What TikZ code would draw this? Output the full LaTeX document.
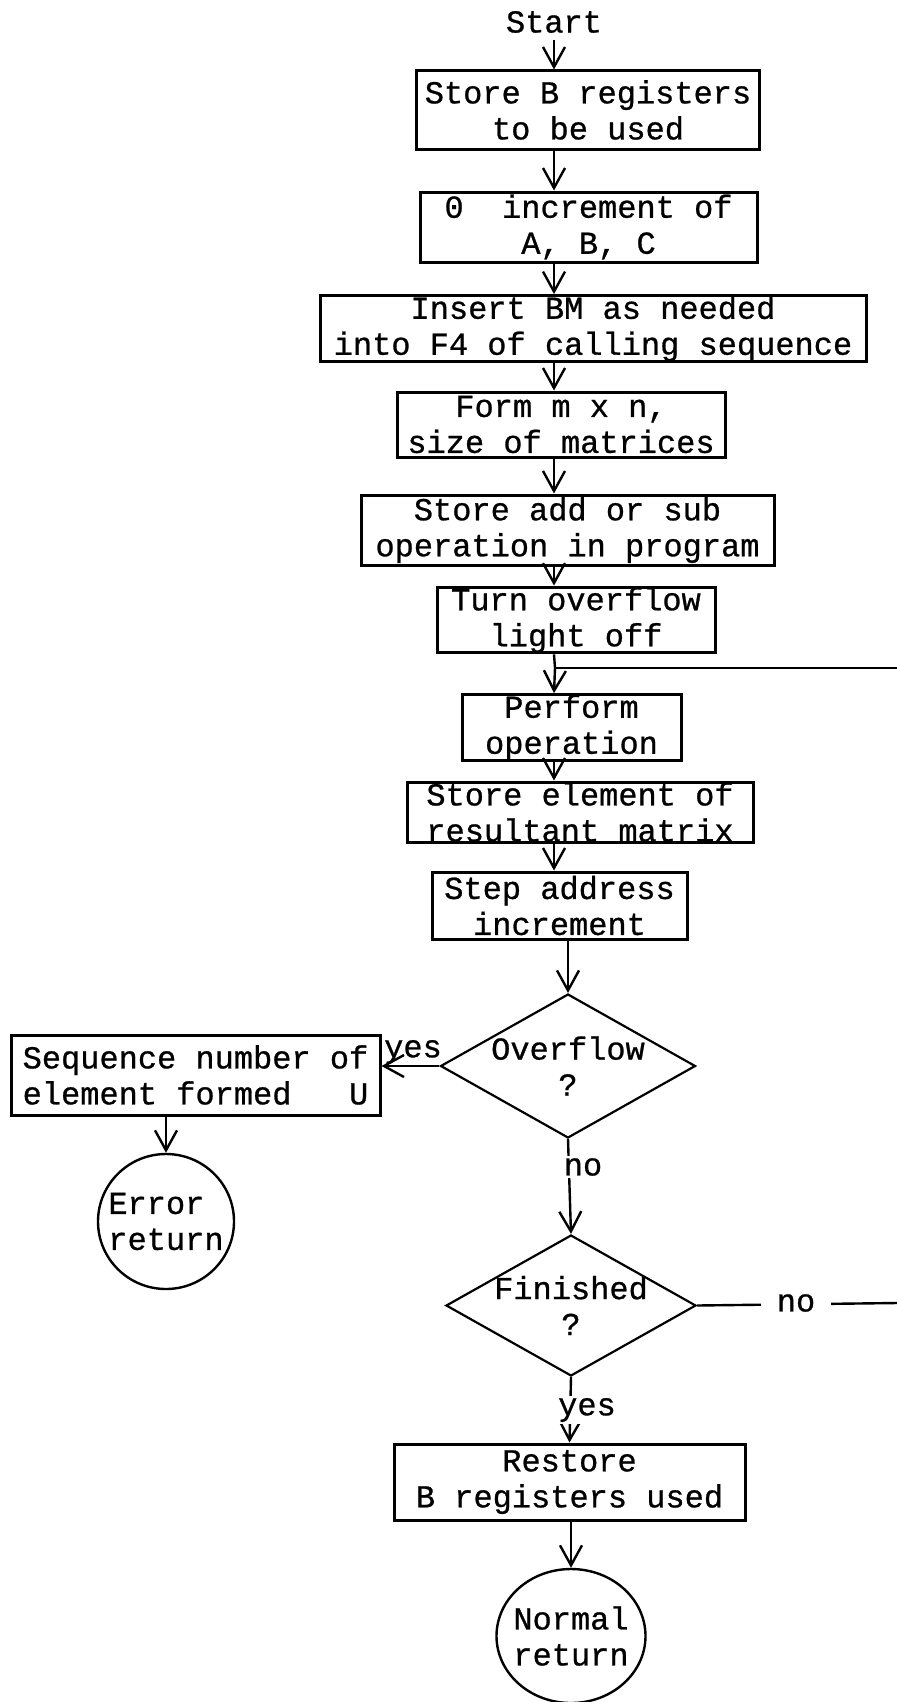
\documentclass[tikz,border=0pt]{standalone}
\usepackage{fontspec}
\setmainfont{Liberation Mono}[FakeBold=0.8]
\usetikzlibrary{arrows.meta,shapes.geometric}

\begin{document}
\begin{tikzpicture}[x=0.5pt, y=-0.5pt, >={Straight Barb[length=10pt,width=11pt]},
    font=\fontsize{16}{18}\selectfont,
    blok/.style={draw, line width=1.5pt, inner xsep=4pt, inner ysep=0pt, align=center},
    rozhod/.style={draw, diamond, line width=1.1pt, inner sep=-12pt, align=center},
    konec/.style={draw, ellipse, line width=1.2pt, inner sep=-8pt, align=left},
    spoj/.style={->, line width=1.2pt},
    popis/.style={fill=white, inner sep=1pt}]

    \useasboundingbox (0,0) rectangle (897,1702);

    % Bloky
    \node (start) at (554,22) {Start};
    \node[blok, minimum width=169pt, minimum height=39pt] (b1) at (588,110) {Store B registers\\to be used};
    \node[blok, minimum width=168.5pt, minimum height=35pt] (b2) at (588.5,227) {0\ \ increment of\\A, B, C};
    \node[blok, minimum width=273pt, minimum height=32.5pt] (b3) at (593,328.5) {Insert BM as needed\\into F4 of calling sequence};
    \node[blok, minimum width=164pt, minimum height=32.5pt] (b4) at (561,424.5) {Form m x n,\\size of matrices};
    \node[blok, minimum width=206.5pt, minimum height=35pt] (b5) at (567.5,530) {Store add or sub\\operation in program};
    \node[blok, minimum width=139pt, minimum height=32pt] (b6) at (576,620) {Turn overflow\\light off};
    \coordinate (j) at (555,668);
    \coordinate (jr) at (897,668);
    \node[blok, minimum width=109.5pt, minimum height=32.5pt] (b7) at (571.5,727.5) {Perform\\operation};
    \node[blok, minimum width=173pt, minimum height=30pt] (b8) at (580,812) {Store element of\\resultant matrix};
    \node[blok, minimum width=127.5pt, minimum height=33.5pt] (b9) at (559.5,905.5) {Step address\\increment};

    % Rozhodovani
    \node[rozhod, minimum width=127.5pt, minimum height=72pt] (d1) at (568,1066) {Overflow\\?};
    \node[blok, align=left, minimum width=184.5pt, minimum height=40pt] (b10) at (195.5,1075) {Sequence number of\\element formed\ \ \ U};
    \node[konec, minimum width=68pt, minimum height=67.5pt] (e1) at (166,1221.5) {Error\\return};
    \node[rozhod, minimum width=125pt, minimum height=70.5pt] (d2) at (571,1305.5) {Finished\\?};
    \coordinate (fr) at (897,1303);
    \node[blok, minimum width=175.5pt, minimum height=38pt] (b11) at (569.5,1482) {Restore\\B registers used};
    \node[konec, minimum width=74.5pt, minimum height=67pt] (e2) at (571,1636) {Normal\\return};

    % Spoje
    \draw[spoj] (start) -- (start |- b1.north);
    \draw[spoj] (b1.south -| start) -- (b2.north -| start);
    \draw[spoj] (b2.south -| start) -- (b3.north -| start);
    \draw[spoj] (b3.south -| start) -- (b4.north -| start);
    \draw[spoj] (b4.south -| start) -- (b5.north -| start);
    \draw[spoj] (b5.south -| start) -- (b6.north -| start);
    \draw[spoj] (b6.south -| start) -- (j) -- (b7.north -| start);
    \draw[line width=1.2pt] (j) -- (jr);
    \draw[spoj] (b7.south -| start) -- (b8.north -| start);
    \draw[spoj] (b8.south -| start) -- (b9.north -| start);
    \draw[spoj] (b9.south -| d1) -- (d1.north);
    \draw[spoj] (d1.west) -- (d1.west -| b10.east);
    \node (ano1) at (413,1052) {yes};
    \draw[spoj] (b10.south -| e1) -- (e1.north);
    \draw[spoj] (d1.south) -- (d2.north);
    \node[popis] (ne1) at (583,1167) {no};
    \draw[line width=1.2pt] (d2.east) -- (fr);
    \node[popis, inner xsep=8pt] (ne2) at (796,1303) {no};
    \draw[spoj] (d2.south) -- (b11.north);
    \node[popis] (ano2) at (587,1410) {yes};
    \draw[spoj] (b11.south -| e2) -- (e2.north);

\end{tikzpicture}
\end{document}
